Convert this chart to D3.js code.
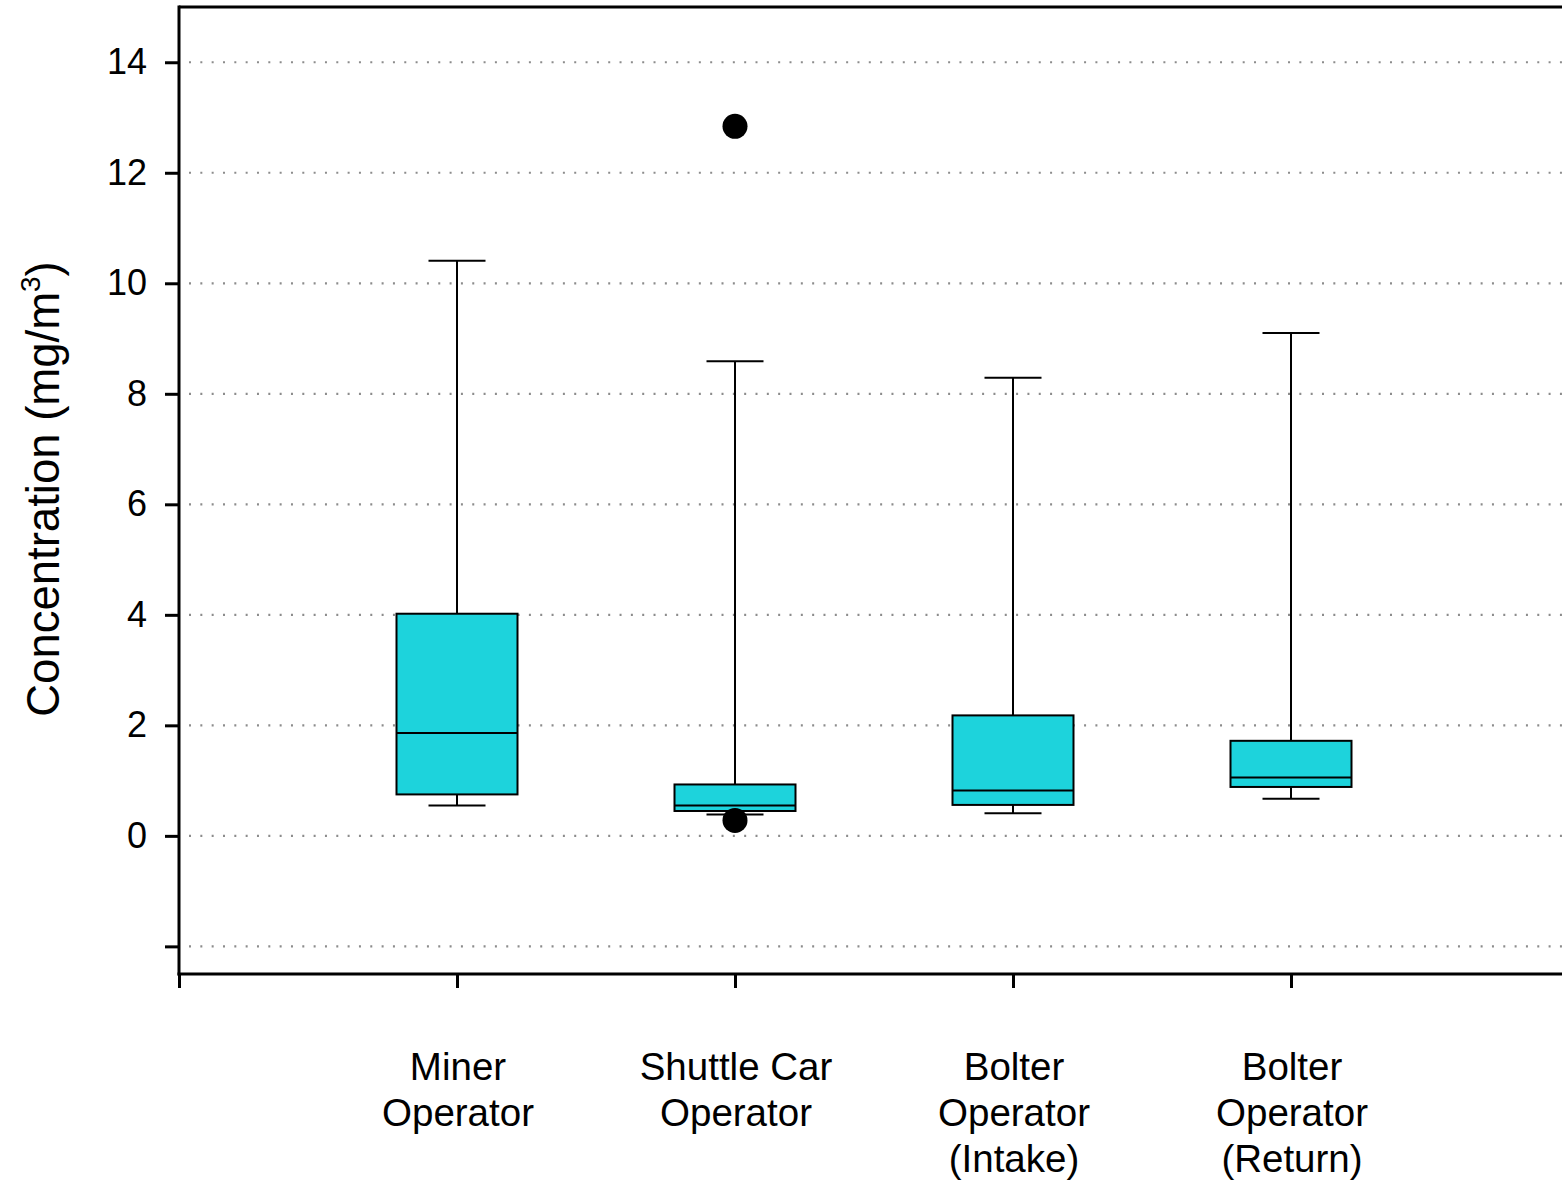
<!DOCTYPE html>
<html>
<head>
<meta charset="utf-8">
<script src="https://cdn.jsdelivr.net/npm/d3@7"></script>
<style>
  html, body { margin: 0; padding: 0; background: #fff; }
  svg { display: block; }
  text { font-family: "Liberation Sans", Arial, sans-serif; fill: #000; }
</style>
</head>
<body>
<svg id="chart" width="1562" height="1181"></svg>
<script>
// ---- data ----
const categories = [
  ["Miner", "Operator"],
  ["Shuttle Car", "Operator"],
  ["Bolter", "Operator", "(Intake)"],
  ["Bolter", "Operator", "(Return)"]
];
const whiskerLow  = [0.55, 0.385, 0.41, 0.67];
const q1          = [0.75, 0.45, 0.56, 0.885];
const median      = [1.86, 0.55, 0.82, 1.055];
const q3          = [4.02, 0.93, 2.18, 1.72];
const whiskerHigh = [10.41, 8.59, 8.29, 9.10];
const outliers    = [[], [12.84, 0.28], [], []];
const yTicks = [-2, 0, 2, 4, 6, 8, 10, 12, 14];
const yTickLabels = ["", "0", "2", "4", "6", "8", "10", "12", "14"];

// ---- layout ----
const svg = d3.select("#chart");
const pLeft = 179, pTop = 7, pBottom = 974, pRight = 1569;
const x = d3.scaleLinear().domain([0, 5]).range([pLeft, pRight]);
const y = d3.scaleLinear().domain([-2.5, 15]).range([pBottom, pTop]);
const boxW = 121, capW = 57;

// gridlines
svg.append("g").selectAll("line").data(yTicks).join("line")
  .attr("x1", pLeft + 10).attr("x2", 1562)
  .attr("y1", d => y(d)).attr("y2", d => y(d))
  .attr("stroke", "#8c8c8c").attr("stroke-width", 2.2)
  .attr("stroke-dasharray", "2 9.33");

const idx = d3.range(categories.length);
const g = svg.append("g");

// whiskers
idx.forEach(i => {
  const cx = x(i + 1);
  g.append("line").attr("x1", cx).attr("x2", cx)
    .attr("y1", y(q3[i])).attr("y2", y(whiskerHigh[i]))
    .attr("stroke", "#000").attr("stroke-width", 2);
  g.append("line").attr("x1", cx).attr("x2", cx)
    .attr("y1", y(q1[i])).attr("y2", y(whiskerLow[i]))
    .attr("stroke", "#000").attr("stroke-width", 2);
  g.append("line").attr("x1", cx - capW / 2).attr("x2", cx + capW / 2)
    .attr("y1", y(whiskerHigh[i])).attr("y2", y(whiskerHigh[i]))
    .attr("stroke", "#000").attr("stroke-width", 2);
  g.append("line").attr("x1", cx - capW / 2).attr("x2", cx + capW / 2)
    .attr("y1", y(whiskerLow[i])).attr("y2", y(whiskerLow[i]))
    .attr("stroke", "#000").attr("stroke-width", 2);
});

// boxes
g.selectAll("rect.box").data(idx).join("rect").attr("class", "box")
  .attr("x", i => x(i + 1) - boxW / 2)
  .attr("width", boxW)
  .attr("y", i => y(q3[i]))
  .attr("height", i => y(q1[i]) - y(q3[i]))
  .attr("fill", "#1dd3dc").attr("stroke", "#000").attr("stroke-width", 2);

// medians
g.selectAll("line.med").data(idx).join("line").attr("class", "med")
  .attr("x1", i => x(i + 1) - boxW / 2).attr("x2", i => x(i + 1) + boxW / 2)
  .attr("y1", i => y(median[i])).attr("y2", i => y(median[i]))
  .attr("stroke", "#000").attr("stroke-width", 2);

// outliers
const outPts = [];
outliers.forEach((arr, i) => arr.forEach(v => outPts.push({ i, v })));
g.selectAll("circle").data(outPts).join("circle")
  .attr("cx", d => x(d.i + 1)).attr("cy", d => y(d.v))
  .attr("r", 12.5).attr("fill", "#000");

// axes
const yAxis = svg.append("g").attr("transform", `translate(${pLeft},0)`)
  .call(d3.axisLeft(y).tickValues(yTicks).tickSize(14).tickPadding(18)
    .tickFormat((d, i) => yTickLabels[i]));
yAxis.select(".domain").remove();
yAxis.selectAll(".tick line").attr("stroke-width", 3);
yAxis.selectAll(".tick text").attr("font-size", 36)
  .style("font-family", '"Liberation Sans", Arial, sans-serif');

svg.append("line").attr("x1", pLeft).attr("x2", pLeft)
  .attr("y1", pTop - 1.5).attr("y2", pBottom + 1.5)
  .attr("stroke", "#000").attr("stroke-width", 3);
svg.append("line").attr("x1", pLeft).attr("x2", 1562)
  .attr("y1", pTop).attr("y2", pTop)
  .attr("stroke", "#000").attr("stroke-width", 3);

const xAxis = svg.append("g").attr("transform", `translate(0,${pBottom})`)
  .call(d3.axisBottom(x).tickValues([0, 1, 2, 3, 4, 5]).tickSize(14).tickFormat(""));
xAxis.select(".domain").remove();
xAxis.selectAll(".tick line").attr("stroke-width", 3);
svg.append("line").attr("x1", pLeft - 1.5).attr("x2", 1562)
  .attr("y1", pBottom).attr("y2", pBottom)
  .attr("stroke", "#000").attr("stroke-width", 3);

// category labels
const labG = svg.append("g");
idx.forEach(i => {
  const t = labG.append("text").attr("text-anchor", "middle")
    .attr("font-size", 38.5).attr("x", x(i + 1) + 1).attr("y", 1080);
  categories[i].forEach((line, k) => {
    t.append("tspan").attr("x", x(i + 1) + 1).attr("y", 1080 + k * 46).text(line);
  });
});

// y title
const yt = svg.append("text").attr("text-anchor", "middle")
  .attr("font-size", 45.5)
  .attr("transform", "translate(59,489) rotate(-90)");
yt.append("tspan").text("Concentration (mg/m");
yt.append("tspan").attr("font-size", 28).attr("dy", -19).text("3");
yt.append("tspan").attr("dy", 19).text(")");
</script>
</body>
</html>
